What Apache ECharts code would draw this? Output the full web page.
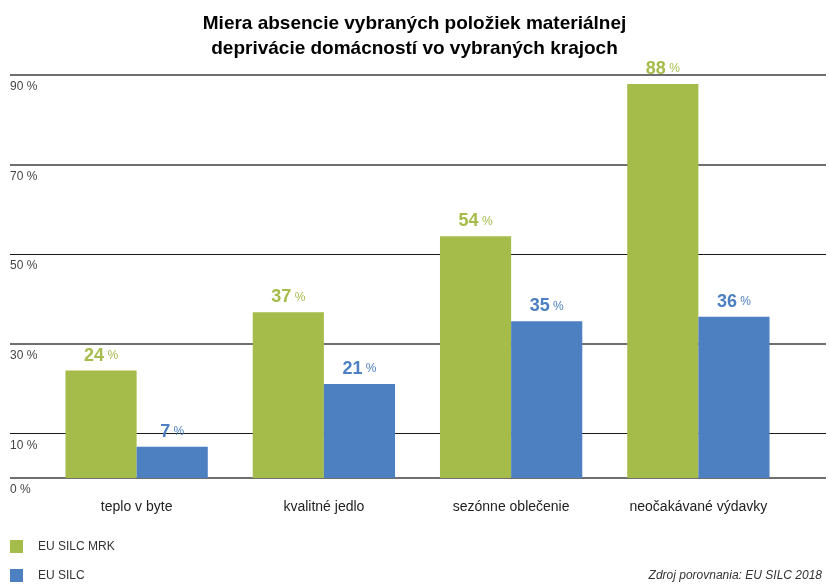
<!DOCTYPE html>
<html><head><meta charset="utf-8">
<script src="https://cdn.jsdelivr.net/npm/echarts@6/dist/echarts.min.js"></script>
<style>html,body{margin:0;padding:0;background:#fff}#c{width:829px;height:586px}</style>
</head><body><div id="c"></div>
<script>
const categories = ['teplo v byte', 'kvalitné jedlo', 'sezónne oblečenie', 'neočakávané výdavky'];
const seriesNames = ['EU SILC MRK', 'EU SILC'];
const mrkValues = [24, 37, 54, 88];
const silcValues = [7, 21, 35, 36];
const yTickLabels = [0, 10, 30, 50, 70, 90];
const blackLines = [10, 50];
const titleText = 'Miera absencie vybraných položiek materiálnej\ndeprivácie domácností vo vybraných krajoch';
const sourceText = 'Zdroj porovnania: EU SILC 2018';

const GREEN = '#a5bc4a', BLUE = '#4c80c1';
const FONT = 'Liberation Sans';
const steps = [];
for (let v = 0; v <= 90; v += 10) steps.push(v);
const grayColors = steps.map(v => (yTickLabels.includes(v) && !blackLines.includes(v)) ? '#6f6f6f' : 'rgba(0,0,0,0)');
const blackColors = steps.map(v => blackLines.includes(v) ? '#1a1a1a' : 'rgba(0,0,0,0)');

const chart = echarts.init(document.getElementById('c'), null, {renderer: 'canvas'});
const labelRich = {
  n: {fontSize: 18, fontWeight: 'bold', fontFamily: FONT},
  p: {fontSize: 12, fontFamily: FONT}
};
function barLabel(color) {
  return {
    show: true, position: 'top', distance: 6,
    formatter: p => '{n|' + p.value + '}{p| %}',
    rich: {n: Object.assign({color}, labelRich.n), p: Object.assign({color}, labelRich.p)}
  };
}
chart.setOption({
  animation: false,
  textStyle: {fontFamily: FONT},
  title: {
    text: titleText, left: 'center', top: 6,
    textStyle: {fontSize: 19, fontWeight: 'bold', color: '#000', lineHeight: 25, fontFamily: FONT}
  },
  legend: {
    orient: 'vertical', left: 10, top: 540, bottom: 0, padding: 0,
    itemWidth: 13, itemHeight: 13, itemGap: 16,
    icon: 'rect', data: seriesNames,
    textStyle: {fontSize: 12, color: '#333', padding: [0, 0, 0, 10], fontFamily: FONT}
  },
  graphic: [{
    type: 'text', right: 7, top: 570,
    style: {text: sourceText, fill: '#333', font: 'italic 12px "Liberation Sans"'}
  }],
  grid: [
    {left: 43, right: 37, top: 75, bottom: 108},
    {left: 10, right: 3, top: 75, bottom: 108},
    {left: 10, right: 3, top: 75, bottom: 108}
  ],
  xAxis: [
    {type: 'category', gridIndex: 0, data: categories,
     axisLine: {show: false}, axisTick: {show: false},
     axisLabel: {fontSize: 14, color: '#222', margin: 22, fontFamily: FONT}},
    {type: 'value', gridIndex: 1, min: 0, max: 1, show: false},
    {type: 'value', gridIndex: 2, min: 0, max: 1, show: false}
  ],
  yAxis: [
    {type: 'value', gridIndex: 0, min: 0, max: 90, interval: 10, show: false, splitLine: {show: false}},
    {type: 'value', gridIndex: 1, min: 0, max: 90, interval: 10,
     axisLine: {show: false}, axisTick: {show: false},
     splitLine: {show: true, lineStyle: {color: grayColors, width: 2}},
     axisLabel: {inside: true, margin: 0, verticalAlign: 'top', padding: [6, 0, 0, 0],
                 fontSize: 12, color: '#444', fontFamily: FONT,
                 formatter: v => yTickLabels.includes(v) ? v + ' %' : ''}},
    {type: 'value', gridIndex: 2, min: 0, max: 90, interval: 10,
     axisLine: {show: false}, axisTick: {show: false}, axisLabel: {show: false},
     splitLine: {show: true, lineStyle: {color: blackColors, width: 1}}}
  ],
  series: [
    {name: seriesNames[0], type: 'bar', xAxisIndex: 0, yAxisIndex: 0, data: mrkValues,
     itemStyle: {color: GREEN}, barGap: '0%', barCategoryGap: '24%', label: barLabel(GREEN), z: 3},
    {name: seriesNames[1], type: 'bar', xAxisIndex: 0, yAxisIndex: 0, data: silcValues,
     itemStyle: {color: BLUE}, barGap: '0%', barCategoryGap: '24%', label: barLabel(BLUE), z: 3}
  ]
});
</script></body></html>
